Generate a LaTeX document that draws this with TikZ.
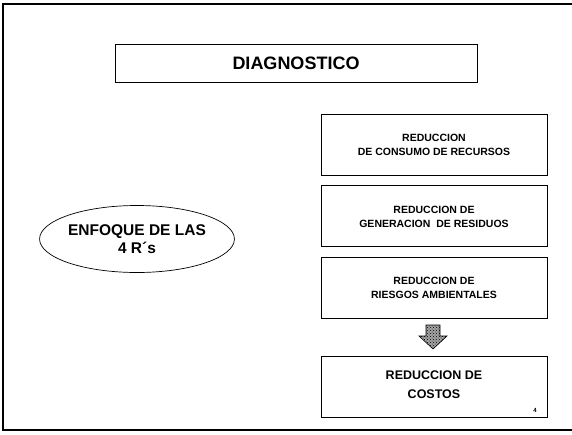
\documentclass[tikz,border=0pt]{standalone}
\usepackage{fontspec}
\setmainfont{Liberation Sans}
\usetikzlibrary{patterns,positioning,shapes.geometric}
\tikzset{
  stagebox/.style={draw, line width=0.9pt, minimum width=226pt, minimum height=61pt,
    inner sep=0pt, align=center, font=\bfseries\fontsize{10.5}{14}\selectfont},
  titlebox/.style={draw, line width=0.9pt, minimum width=362pt, minimum height=38pt,
    inner sep=0pt, font=\bfseries\fontsize{18}{20}\selectfont},
}

\begin{document}
\begin{tikzpicture}[x=1pt, y=-1pt]
\useasboundingbox (0,0) rectangle (572,434);
% slide frame, open on the right
\draw[line width=1.6pt] (572,4) -- (3,4) -- (3,430) -- (572,430);

\node[titlebox] (diag) at (296,63.5) {DIAGNOSTICO};
\node[ellipse, draw, line width=0.7pt, minimum width=192pt, minimum height=67pt,
  inner sep=0pt, align=center, font=\bfseries\fontsize{15.5}{18}\selectfont]
  (enfoque) at (137,239) {ENFOQUE DE LAS\\4 R´s};

\node[stagebox] (consumo) at (434,144.5) {REDUCCION\\DE CONSUMO DE RECURSOS};
\node[stagebox, below=10pt of consumo] (residuos) {REDUCCION DE\\GENERACION\ \ DE RESIDUOS};
\node[stagebox, below=10pt of residuos] (riesgos) {REDUCCION DE\\RIESGOS AMBIENTALES};
\node[stagebox, below=37pt of riesgos, font=\bfseries\fontsize{12.5}{19}\selectfont]
  (costos) {REDUCCION DE\\COSTOS\rule[-6pt]{0pt}{0pt}};
\node[font=\bfseries\fontsize{6}{7}\selectfont] (pagenum) at (535,410) {4};

% block arrow between the last two boxes
\coordinate (drop) at (433,337);
\draw[line width=0.6pt, preaction={fill=black!35}, pattern=crosshatch dots]
  (drop) ++(-7,-12) -- ++(14,0) -- ++(0,11) -- ++(7,0) -- ++(-14,13)
  -- ++(-14,-13) -- ++(7,0) -- cycle;
\end{tikzpicture}
\end{document}
